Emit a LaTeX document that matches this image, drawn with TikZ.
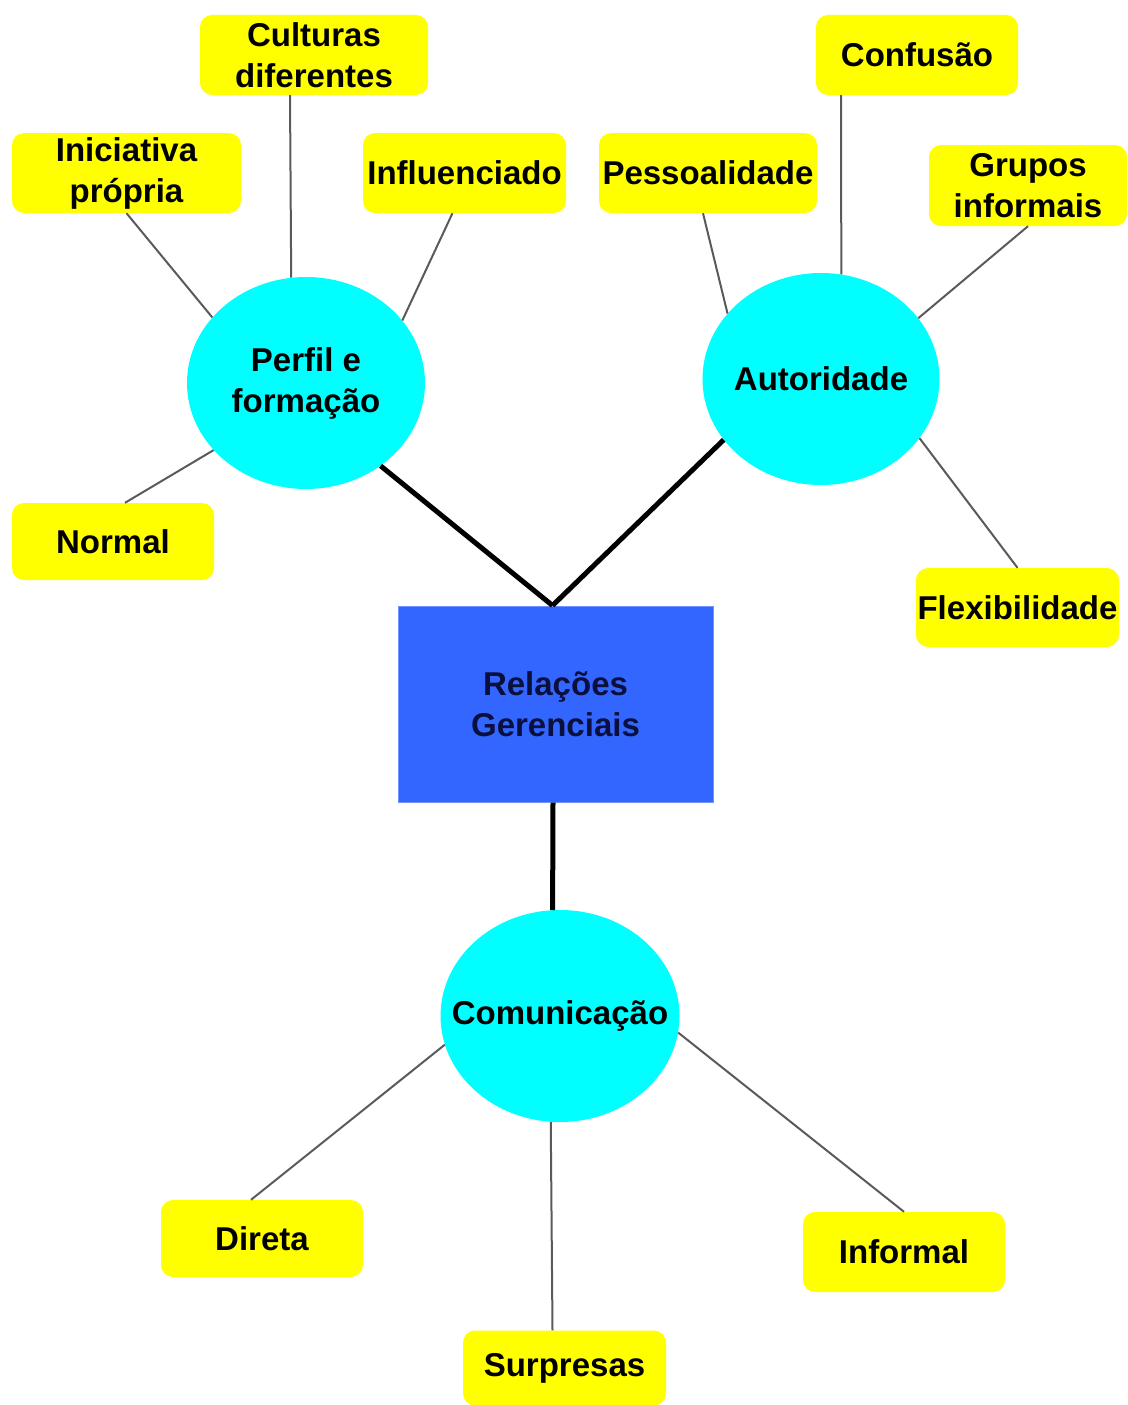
\documentclass[tikz,border=0pt]{standalone}
\usepackage{fontspec}
\setmainfont{Liberation Sans}
\usetikzlibrary{shapes.geometric}
\definecolor{boxyellow}{RGB}{255,255,0}
\definecolor{elcyan}{RGB}{0,255,255}
\definecolor{relblue}{RGB}{51,102,255}
\definecolor{reltext}{RGB}{10,15,60}
\definecolor{linegray}{RGB}{90,90,90}
\begin{document}
\begin{tikzpicture}[x=1pt,y=-1pt,
  lbl/.style={font=\fontsize{33}{41}\selectfont\bfseries, align=center, inner sep=0pt},
  ybox/.style={lbl, fill=boxyellow, rounded corners=12pt},
  cellipse/.style={lbl, ellipse, fill=elcyan, minimum height=212pt},
  leafline/.style={linegray, line width=2pt},
  mainline/.style={black, line width=5pt}]
\useasboundingbox (0,0) rectangle (1127,1405);

% central rectangle
\node[lbl, fill=relblue, draw=relblue!70!white, line width=1pt, minimum width=315pt, minimum height=196pt, text=reltext] (rel) at (555.5,704) {Relações\\Gerenciais};

% ellipses
\node[cellipse, minimum width=238pt] (perfil) at (306,383) {\makebox[0pt]{Perfil e}\\\makebox[0pt]{formação}};
\node[cellipse, minimum width=237pt] (aut) at (821,379) {\makebox[0pt]{Autoridade}};
\node[cellipse, minimum width=239pt] (com) at (560,1016) {\makebox[0pt]{Comunicação}};

% yellow boxes
\node[ybox, minimum width=228pt, minimum height=80pt] (cult) at (314,55) {Culturas\\diferentes};
\node[ybox, minimum width=229pt, minimum height=80pt] (inic) at (126.5,173) {Iniciativa\\própria};
\node[ybox, minimum width=203pt, minimum height=80pt] (infl) at (464.5,173) {Influenciado};
\node[ybox, minimum width=202pt, minimum height=77pt] (norm) at (113,541.5) {Normal};
\node[ybox, minimum width=218pt, minimum height=80pt] (pess) at (708,173) {Pessoalidade};
\node[ybox, minimum width=202pt, minimum height=80pt] (conf) at (917,55) {Confusão};
\node[ybox, minimum width=198pt, minimum height=81pt] (grup) at (1028,185.5) {Grupos\\informais};
\node[ybox, minimum width=203pt, minimum height=79pt] (flex) at (1017.5,607.5) {Flexibilidade};
\node[ybox, minimum width=202pt, minimum height=77pt] (dir) at (262,1238.5) {Direta};
\node[ybox, minimum width=203pt, minimum height=75pt] (surp) at (564.5,1368) {Surpresas};
\node[ybox, minimum width=202pt, minimum height=80pt] (inf) at (904,1252) {Informal};

% main connectors
\draw[mainline] (perfil.312) -- ([xshift=-3pt]rel.north);
\draw[mainline] (aut.212) -- ([xshift=-3pt]rel.north);
\draw[mainline] ([xshift=-2.5pt]rel.south) -- (com.94);

% leaf connectors
\draw[leafline] (inic.south) -- (perfil.145);
\draw[leafline] ([xshift=-24pt]cult.south) -- (perfil.98.6);
\draw[leafline] ([xshift=-12pt]infl.south) -- (perfil.33.8);
\draw[leafline] ([xshift=12pt]norm.north) -- (perfil.216);
\draw[leafline] ([xshift=-5pt]pess.south) -- (aut.145.9);
\draw[leafline] ([xshift=-76pt]conf.south) -- (aut.79.1);
\draw[leafline] (grup.south) -- (aut.32.7);
\draw[leafline] (flex.north) -- (aut.329.1);
\draw[leafline] ([xshift=-11pt]dir.north) -- (com.194.2);
\draw[leafline] ([xshift=-12pt]surp.north) -- (com.265.7);
\draw[leafline] (inf.north) -- (com.352.9);
\end{tikzpicture}
\end{document}
